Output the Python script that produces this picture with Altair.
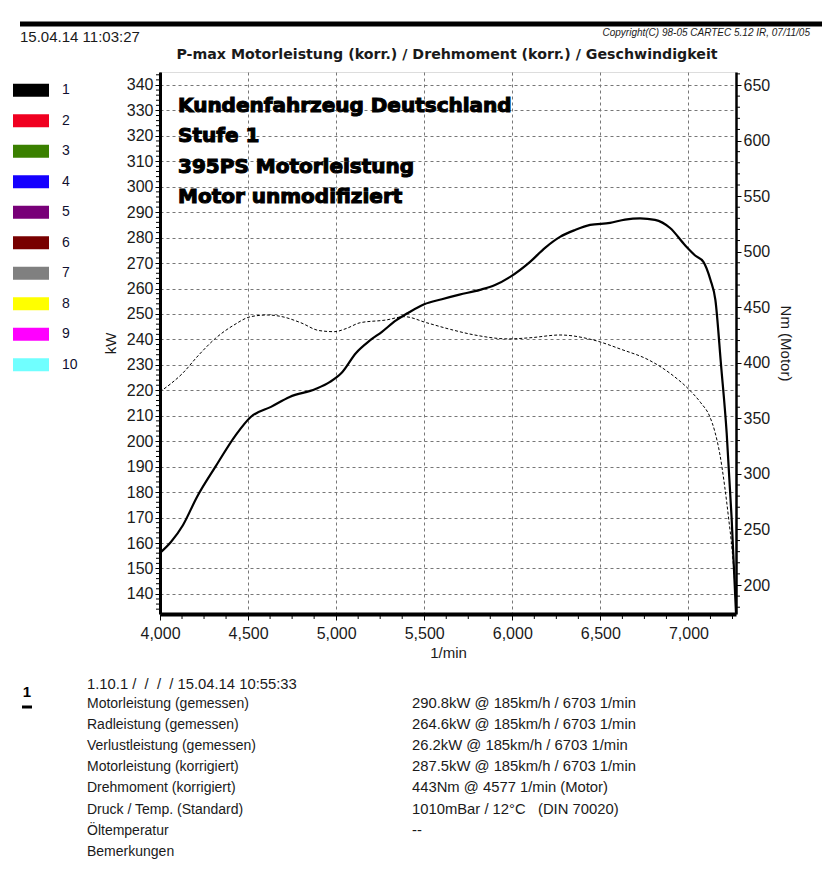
import altair as alt
import pandas as pd

# ---------------- data ----------------
rpm_power = [4000, 4062, 4130, 4210, 4315, 4431, 4515, 4630, 4736, 4883, 4965, 5030,
             5113, 5190, 5260, 5340, 5408, 5500, 5600, 5700, 5817, 5902, 5988, 6101,
             6186, 6271, 6356, 6442, 6555, 6640, 6725, 6810, 6896, 6981, 7038, 7085,
             7125, 7153, 7185, 7217, 7245, 7270]
kw_power = [156.1, 160.4, 167.0, 178.1, 190.0, 202.5, 209.5, 213.5, 217.4, 220.5, 223.3, 226.8,
            234.7, 239.5, 243.0, 247.5, 250.4, 253.8, 255.8, 257.6, 259.5, 261.4, 264.6, 270.5,
            276.0, 280.3, 283.0, 285.0, 285.8, 287.1, 287.6, 287.0, 283.8, 277.0, 273.0, 270.5,
            263.4, 255.5, 230.0, 203.3, 170.0, 132.5]

rpm_torque = [4000, 4060, 4125, 4220, 4315, 4420, 4515, 4610, 4693, 4800, 4903, 4990,
              5060, 5135, 5283, 5387, 5514, 5650, 5787, 5976, 6100, 6271, 6460, 6620,
              6775, 6900, 7006, 7070, 7120, 7150, 7178, 7206, 7227, 7248, 7270]
nm_torque = [374.0, 381.0, 390.0, 407.0, 422.0, 434.0, 441.5, 443.0, 441.5, 436.0, 429.0, 428.0,
             431.0, 436.0, 438.5, 441.5, 436.0, 430.0, 425.0, 421.5, 422.5, 425.0, 420.5, 412.0,
             402.5, 390.0, 375.5, 364.0, 352.0, 338.0, 318.0, 288.5, 261.5, 231.5, 186.5]

x_ticks = list(range(4000, 7001, 500))
kw_ticks = list(range(140, 341, 10))
nm_ticks = list(range(200, 651, 50))
x_minor = [v for v in range(4000, 7251, 125) if v % 500]
kw_minor = [v for v in range(134, 345, 2) if v % 10]
nm_minor = [v for v in range(180, 661, 10) if v % 50]

legend_labels = [str(i) for i in range(1, 11)]
legend_colors = ["#000000", "#f00020", "#3a8000", "#1400ff", "#780078",
                 "#780000", "#808080", "#ffff00", "#ff00ff", "#70ffff"]

annotation_lines = ["Kundenfahrzeug Deutschland", "Stufe 1",
                    "395PS Motorleistung", "Motor unmodifiziert"]

title_text = "P-max Motorleistung (korr.) / Drehmoment (korr.) / Geschwindigkeit"
date_text = "15.04.14 11:03:27"
copyright_text = "Copyright(C) 98-05 CARTEC 5.12 IR, 07/11/05"

NB = "\u00a0"
info_header = f"1.10.1 /{NB}{NB}/{NB}{NB}/{NB}{NB}/ 15.04.14 10:55:33"
info_labels = ["Motorleistung (gemessen)", "Radleistung (gemessen)",
               "Verlustleistung (gemessen)", "Motorleistung (korrigiert)",
               "Drehmoment (korrigiert)", "Druck / Temp. (Standard)",
               "Öltemperatur", "Bemerkungen"]
info_values = ["290.8kW @ 185km/h / 6703 1/min", "264.6kW @ 185km/h / 6703 1/min",
               "26.2kW @ 185km/h / 6703 1/min", "287.5kW @ 185km/h / 6703 1/min",
               "443Nm @ 4577 1/min (Motor)", f"1010mBar / 12°C{NB}{NB}{NB}(DIN 70020)",
               "--", ""]

# ---------------- layout ----------------
W, H = 576, 542
OX, OY = 160, 72          # page position of plot origin
FONT = "Liberation Sans"
TXT = "#1a1a1a"

X_DOMAIN = [4000, 7270]
KW_DOMAIN = [132.1, 345.1]
NM_DOMAIN = [173.9, 661.7]

df_p = pd.DataFrame({"rpm": rpm_power, "kw": kw_power})
df_t = pd.DataFrame({"rpm": rpm_torque, "nm": nm_torque})

x_axis = alt.Axis(values=x_ticks, format=",d", title="1/min", grid=True,
                  gridDash=[3, 3], gridColor="#777777", gridWidth=1,
                  tickSize=6, tickColor="black", domainColor="black", domainWidth=4,
                  labelFont=FONT, labelFontSize=16, labelColor=TXT, labelPadding=5,
                  labelFlush=False,
                  titleFont=FONT, titleFontSize=15, titleFontWeight="normal",
                  titleColor=TXT, titlePadding=4)
x_scale = alt.Scale(domain=X_DOMAIN, nice=False, zero=False)

kw_axis = alt.Axis(values=kw_ticks, title="kW", orient="left", grid=True,
                   gridDash=[3, 3], gridColor="#777777", gridWidth=1,
                   tickSize=5, tickColor="black", domainColor="black", domainWidth=3,
                   labelFont=FONT, labelFontSize=16, labelColor=TXT, labelPadding=2,
                   labelFlush=False,
                   titleFont=FONT, titleFontSize=15, titleFontWeight="normal",
                   titleColor=TXT, titlePadding=8)
kw_scale = alt.Scale(domain=KW_DOMAIN, nice=False, zero=False)

nm_axis = alt.Axis(values=nm_ticks, title="Nm (Motor)", orient="right", grid=False,
                   tickSize=5, tickColor="black", domainColor="black", domainWidth=2.5,
                   labelFont=FONT, labelFontSize=16, labelColor=TXT, labelPadding=2,
                   labelFlush=False,
                   titleFont=FONT, titleFontSize=15, titleFontWeight="normal",
                   titleColor=TXT, titlePadding=8)
nm_scale = alt.Scale(domain=NM_DOMAIN, nice=False, zero=False)

x_enc = alt.X("rpm:Q", scale=x_scale, axis=x_axis)

power_line = alt.Chart(df_p).mark_line(color="black", strokeWidth=2.2,
                                       interpolate="monotone").encode(
    x=x_enc, y=alt.Y("kw:Q", scale=kw_scale, axis=kw_axis))
kw_minor_ticks = alt.Chart(pd.DataFrame({"kw": kw_minor})).mark_rule(
    color="black", strokeWidth=1).encode(
    y=alt.Y("kw:Q", scale=kw_scale, axis=kw_axis), x=alt.value(-4), x2=alt.value(-1))
power_group = alt.layer(power_line, kw_minor_ticks)

torque_line = alt.Chart(df_t).mark_line(color="black", strokeWidth=1,
                                        strokeDash=[3, 2],
                                        interpolate="monotone").encode(
    x=x_enc, y=alt.Y("nm:Q", scale=nm_scale, axis=nm_axis))
nm_minor_ticks = alt.Chart(pd.DataFrame({"nm": nm_minor})).mark_rule(
    color="black", strokeWidth=1).encode(
    y=alt.Y("nm:Q", scale=nm_scale, axis=nm_axis), x=alt.value(W + 1), x2=alt.value(W + 4))
torque_group = alt.layer(torque_line, nm_minor_ticks)

x_minor_ticks = alt.Chart(pd.DataFrame({"rpm": x_minor})).mark_rule(
    color="black", strokeWidth=1).encode(
    x=alt.X("rpm:Q", scale=x_scale, axis=x_axis), y=alt.value(H + 2), y2=alt.value(H + 5))

one = pd.DataFrame({"a": [0]})


def text_at(s, px, py, size=14, weight="normal", align="left", style="normal",
            color=TXT, font=FONT):
    return alt.Chart(pd.DataFrame({"t": [s]})).mark_text(
        font=font, fontSize=size, fontWeight=weight, fontStyle=style, align=align,
        baseline="middle", color=color).encode(
        text="t:N", x=alt.value(px - OX), y=alt.value(py - OY))


header_bar = alt.Chart(one).mark_rule(color="black", strokeWidth=5).encode(
    x=alt.value(20 - OX), x2=alt.value(822 - OX), y=alt.value(24 - OY))
date_t = text_at(date_text, 20, 37, size=15)
copy_t = text_at(copyright_text, 810, 33, size=10, style="italic", align="right")
title_t = text_at(title_text, 447, 55, size=14.2, weight="bold", align="center",
                  font="DejaVu Sans")

# annotation block inside plot
df_ann = pd.DataFrame({"t": annotation_lines, "i": range(len(annotation_lines))})
ann = alt.Chart(df_ann).mark_text(
    font="DejaVu Sans", fontSize=20, fontWeight="bold", align="left", baseline="middle",
    color="black", stroke="black", strokeWidth=1.1).transform_calculate(
    py=f"{106 - OY} + datum.i * 30.4").encode(
    text="t:N", x=alt.value(178 - OX), y=alt.Y("py:Q", scale=None, axis=None))

# legend
df_leg = pd.DataFrame({"label": legend_labels, "color": legend_colors,
                       "i": range(len(legend_labels))})
leg_base = alt.Chart(df_leg).transform_calculate(
    py=f"{90.3 - OY} + datum.i * 30.5").transform_calculate(
    y1="datum.py - 6.5", y2="datum.py + 6.5")
leg_rect = leg_base.mark_rect().encode(
    x=alt.value(13 - OX), x2=alt.value(49 - OX),
    y=alt.Y("y1:Q", scale=None, axis=None), y2="y2:Q",
    color=alt.Color("color:N", scale=None))
leg_text = leg_base.mark_text(font=FONT, fontSize=14, align="left", baseline="middle",
                              color="#101030").encode(
    text="label:N", x=alt.value(62 - OX), y=alt.Y("py:Q", scale=None, axis=None))

# info block
df_info = pd.DataFrame({"label": info_labels, "value": info_values,
                        "i": range(len(info_labels))})
info_base = alt.Chart(df_info).transform_calculate(py=f"{704 - OY} + datum.i * 21.1")
info_lab = info_base.mark_text(font=FONT, fontSize=14, align="left", baseline="middle",
                               color=TXT).encode(
    text="label:N", x=alt.value(87 - OX), y=alt.Y("py:Q", scale=None, axis=None))
info_val = info_base.mark_text(font=FONT, fontSize=14.8, align="left", baseline="middle",
                               color=TXT).encode(
    text="value:N", x=alt.value(412 - OX), y=alt.Y("py:Q", scale=None, axis=None))
info_head = text_at(info_header, 87, 685, size=14.8)
num_one = text_at("1", 27, 692, size=15, weight="bold", align="center", color="black")
num_bar = alt.Chart(one).mark_rule(color="black", strokeWidth=3).encode(
    x=alt.value(22 - OX), x2=alt.value(32 - OX), y=alt.value(707 - OY))

chart = alt.layer(
    power_group, torque_group, x_minor_ticks,
    ann, leg_rect, leg_text, info_lab, info_val,
    header_bar, date_t, copy_t, title_t, info_head, num_one, num_bar,
).resolve_scale(y="independent").properties(
    width=W, height=H,
    autosize=alt.AutoSizeParams(type="none"),
    padding={"left": OX - 8, "top": OY - 8, "right": 823 - (OX - 8) - W,
             "bottom": 855 - (OY - 8) - H},
).configure_view(stroke="black", strokeWidth=1).configure(background="white")

chart.save("out.html", embed_options={"renderer": "svg", "actions": False})
